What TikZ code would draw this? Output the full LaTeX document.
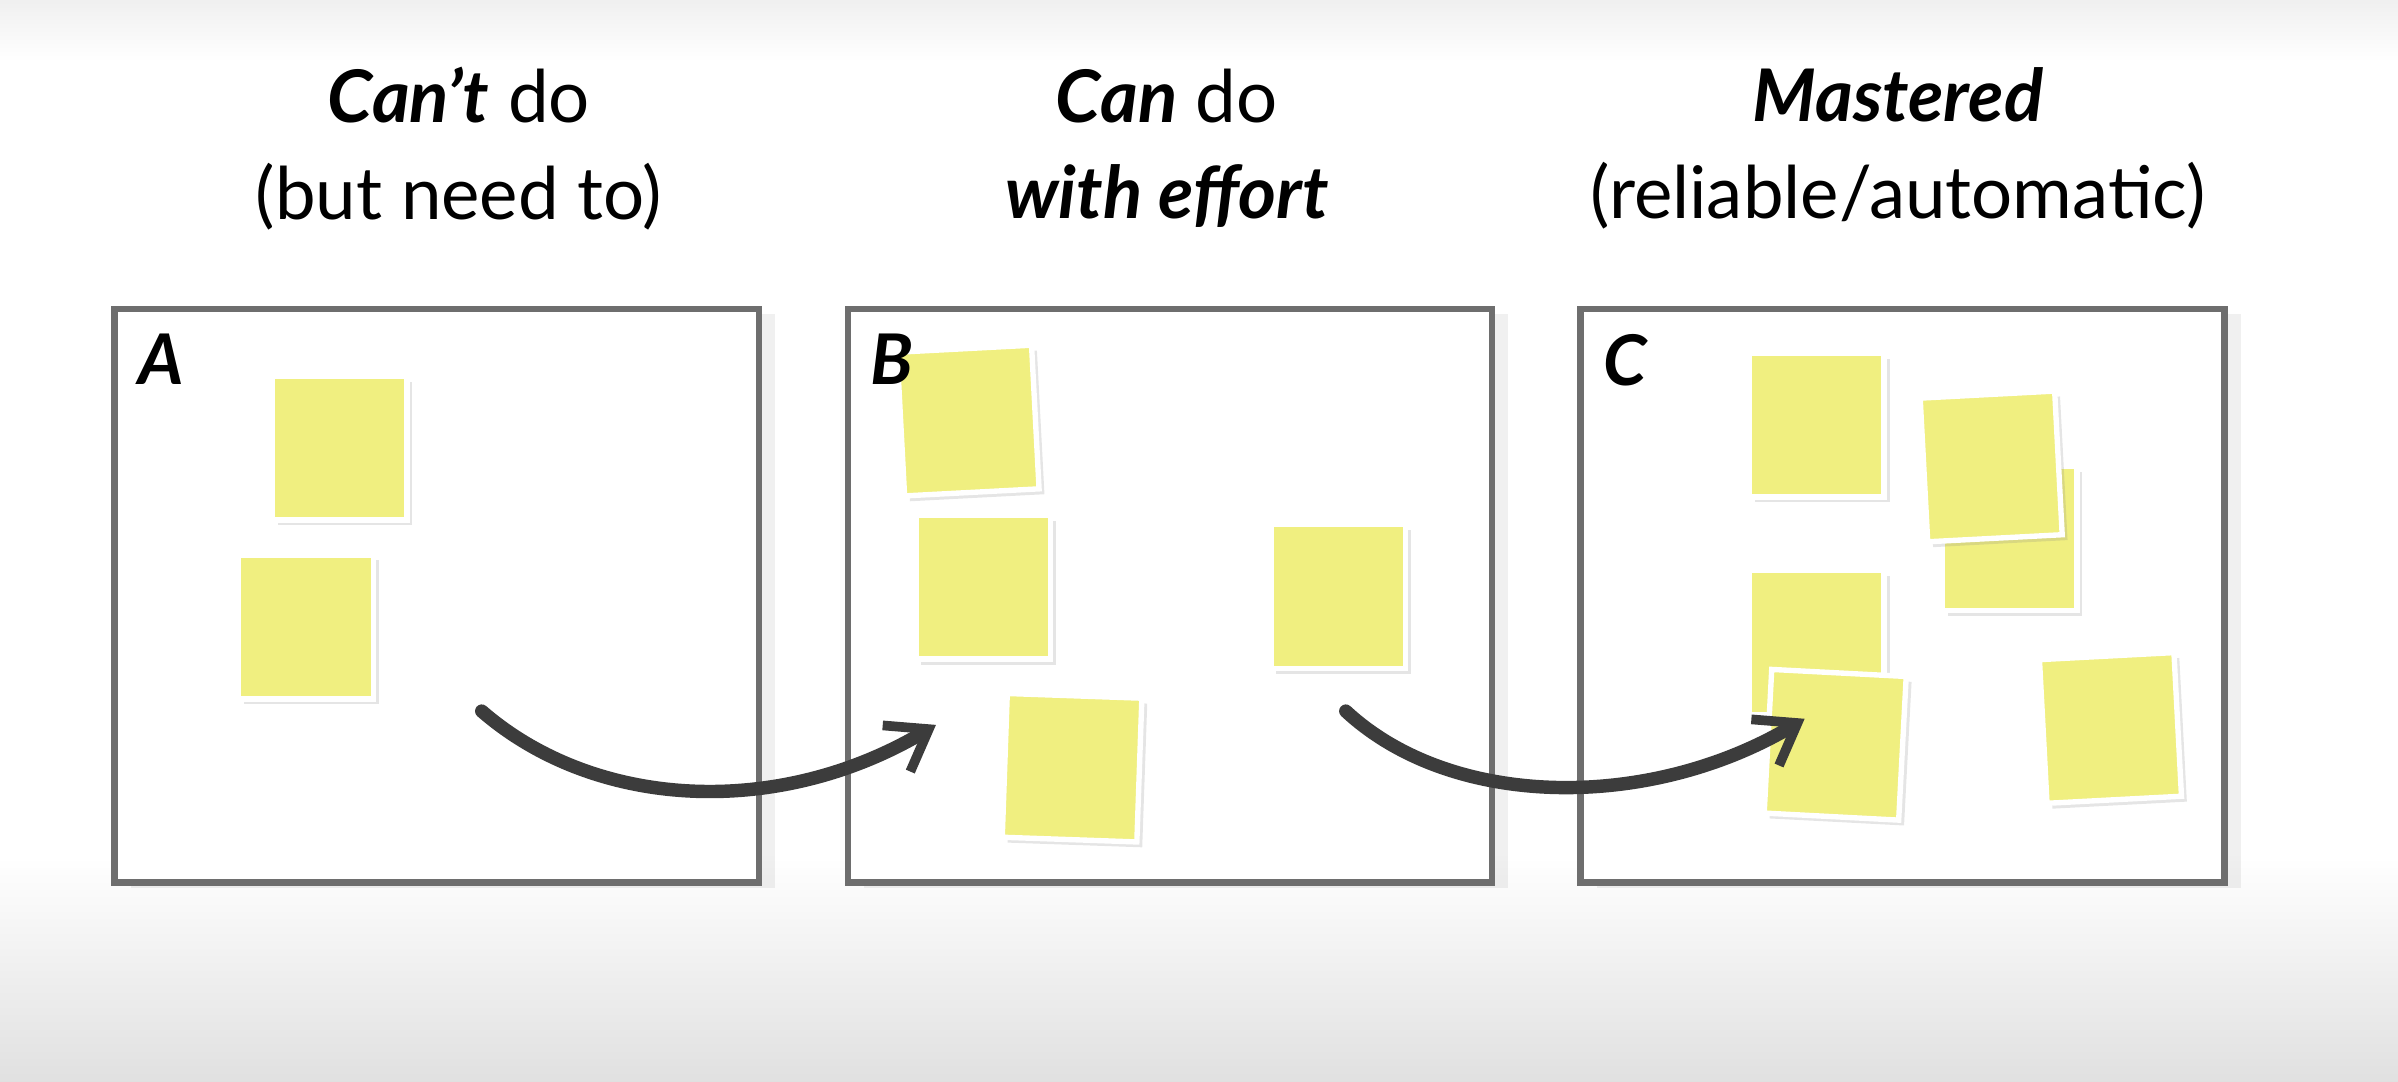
\documentclass[tikz,border=0pt]{standalone}
\usepackage{fontspec}
\setmainfont{Lato}
\usetikzlibrary{positioning,arrows.meta,shadows}
\definecolor{noteyellow}{RGB}{240,239,128}
\definecolor{frame}{RGB}{110,110,110}
\definecolor{brush}{RGB}{60,60,60}
\begin{document}
\begin{tikzpicture}[x=0.01cm,y=-0.01cm,
  panel/.style={draw=frame,line width=1.2pt,fill=white,minimum width=4.21cm,minimum height=3.75cm,
                drop shadow={shadow xshift=3pt,shadow yshift=-1pt,opacity=0.12}},
  note/.style={fill=noteyellow,draw=white,line width=1pt,minimum width=0.88cm,minimum height=0.94cm,
               drop shadow={shadow xshift=1pt,shadow yshift=-1pt,opacity=0.2}},
  heading/.style={align=center,font=\fontsize{13.5}{18}\selectfont},
  tag/.style={font=\fontsize{13}{14}\bfseries\itshape\selectfont},
  swoosh/.style={brush,line width=2.5pt,line cap=round,-{Straight Barb[length=7pt,width=10pt,line width=1.8pt]}}]
\useasboundingbox (0,0) rectangle (1568,707);
\shade[top color=white,bottom color=black!12] (0,560) rectangle (1568,707);
\shade[top color=black!6,bottom color=white] (0,0) rectangle (1568,40);
% headings
\node[heading] (hA) at (300,97) {\textbf{\textit{Can’t}} do\\(but need to)};
\node[heading] (hB) at (763,97) {\textbf{\textit{Can}} do\\\textbf{\textit{with effort}}};
\node[heading] (hC) at (1241,97) {\textbf{\textit{Mastered}}\\(reliable/automatic)};
% panels
\node[panel] (pA) at (285.5,389.5) {};
\node[panel] (pB) at (765,389.5) {};
\node[panel] (pC) at (1244,389.5) {};
% notes
\node[note] (a1) at (222,293) {};
\node[note] (a2) at (200,410) {};
\node[note,rotate=3] (b1) at (633,275) {};
\node[note] (b2) at (643,384) {};
\node[note] (b3) at (875,390) {};
\node[note,rotate=-2] (b4) at (701,502) {};
\node[note] (c1) at (1188,278) {};
\node[note] (c2) at (1314,352) {};
\node[note,rotate=3] (c3) at (1302,305) {};
\node[note] (c4) at (1188,420) {};
\node[note,rotate=-3] (c5) at (1200,487) {};
\node[note,rotate=3] (c6) at (1380,476) {};
\node[tag,anchor=north west] (tA) at (78,206) {A};
\node[tag,anchor=north west] (tB) at (557,206) {B};
\node[tag,anchor=north west] (tC) at (1036,206) {C};
% arrows
\coordinate (s1) at (315,465);
\coordinate (e1) at (612,474);
\coordinate (s2) at (880,465);
\coordinate (e2) at (1180,470);
\draw[swoosh] (s1) .. controls (390,530) and (510,535) .. (e1);
\draw[swoosh] (s2) .. controls (950,530) and (1080,530) .. (e2);
\end{tikzpicture}
\end{document}
